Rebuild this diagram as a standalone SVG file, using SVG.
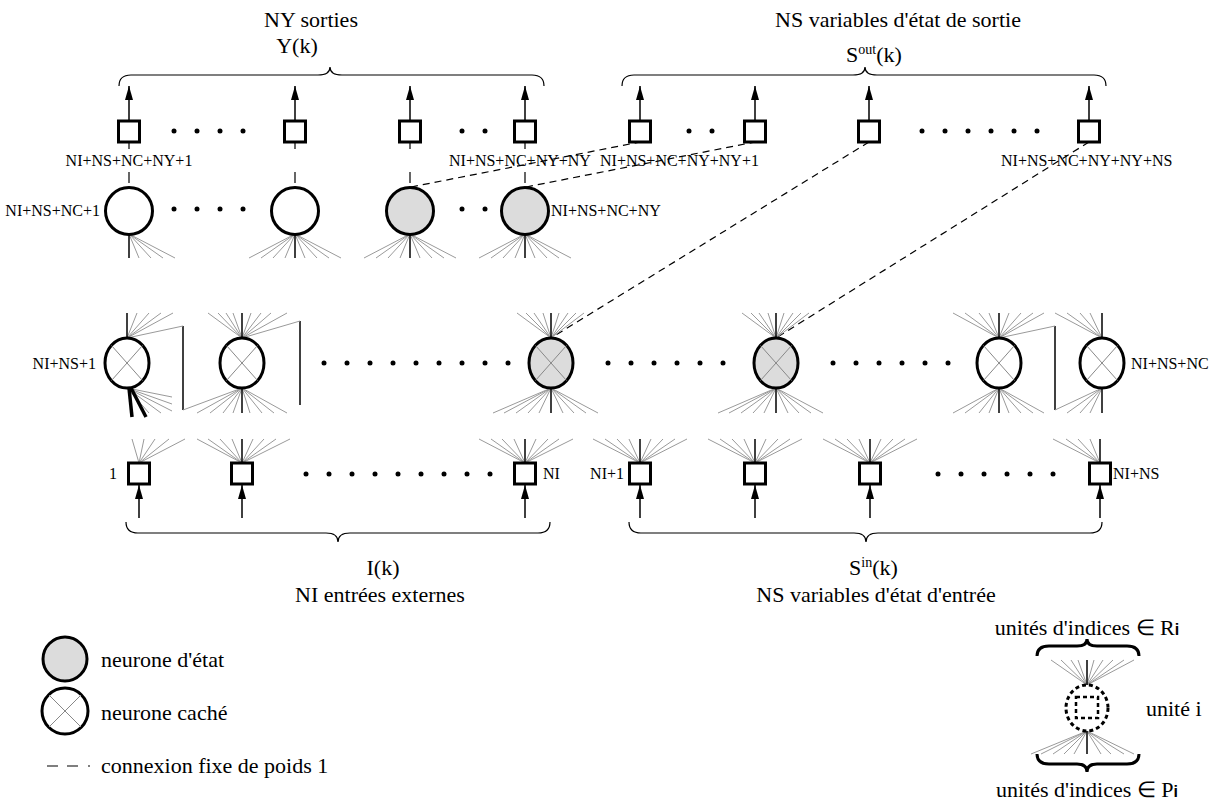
<svg xmlns="http://www.w3.org/2000/svg" width="1214" height="800" viewBox="0 0 1214 800">
<style>
text{font-family:"Liberation Serif","Times New Roman",serif;fill:#000}
.big{font-size:22px}
.sm{font-size:16px}
.sq{fill:#fff;stroke:#000;stroke-width:3}
.nc{fill:#fff;stroke:#000;stroke-width:3}
.ns{fill:#dcdcdc;stroke:#000;stroke-width:3}
.x{stroke:#888;stroke-width:1;fill:none}
.fan{fill:none;stroke:#9a9a9a;stroke-width:1}
.v{stroke:#000;stroke-width:1.5;fill:none}
.arr{stroke:#000;stroke-width:1.5}
.dash{fill:none;stroke:#000;stroke-width:1.2;stroke-dasharray:7 5}
.vd{fill:none;stroke:#000;stroke-width:1.2;stroke-dasharray:7 23 11 100}
.brace{fill:none;stroke:#000;stroke-width:1.2}
.tb{fill:none;stroke:#000;stroke-width:3}
.dot{fill:#000}
.thick{stroke:#000;stroke-width:3.5}
</style>
<defs>
<marker id="ah" viewBox="0 0 14 8" refX="14" refY="4" markerWidth="14" markerHeight="8" markerUnits="userSpaceOnUse" orient="auto">
<path d="M0,0 L14,4 L0,8 z" fill="#000"/>
</marker>
</defs>

<g id="titles">
<text class="big" x="311" y="27" text-anchor="middle">NY sorties</text>
<text class="big" x="297" y="53" text-anchor="middle">Y(k)</text>
<text class="big" x="898" y="27" text-anchor="middle">NS variables d'état de sortie</text>
<text class="big" x="846" y="62">S<tspan font-size="14" dy="-8">out</tspan><tspan dy="8">(k)</tspan></text>
<text class="big" x="383" y="575" text-anchor="middle">I(k)</text>
<text class="big" x="380" y="602" text-anchor="middle">NI entrées externes</text>
<text class="big" x="849" y="575">S<tspan font-size="14" dy="-8">in</tspan><tspan dy="8">(k)</tspan></text>
<text class="big" x="876" y="602" text-anchor="middle">NS variables d'état d'entrée</text>
</g>

<g id="braces">
<path class="brace" d="M119 86 Q119 75 131 75 L318 75 Q330 75 330 67 Q330 75 342 75 L532 75 Q544 75 544 86"/>
<path class="brace" d="M622 86 Q622 75 634 75 L853 75 Q865 75 865 67 Q865 75 877 75 L1094 75 Q1106 75 1106 86"/>
<path class="brace" d="M126 522 Q126 533 138 533 L326 533 Q338 533 338 542 Q338 533 350 533 L538 533 Q550 533 550 522"/>
<path class="brace" d="M629 522 Q629 533 641 533 L854 533 Q866 533 866 542 Q866 533 878 533 L1090 533 Q1102 533 1102 522"/>
</g>

<g id="connectors">
<line class="arr" x1="129" y1="121" x2="129" y2="86" marker-end="url(#ah)"/>
<line class="arr" x1="295" y1="121" x2="295" y2="86" marker-end="url(#ah)"/>
<line class="arr" x1="410" y1="121" x2="410" y2="86" marker-end="url(#ah)"/>
<line class="arr" x1="525" y1="121" x2="525" y2="86" marker-end="url(#ah)"/>
<line class="arr" x1="640" y1="121" x2="640" y2="86" marker-end="url(#ah)"/>
<line class="arr" x1="755" y1="121" x2="755" y2="86" marker-end="url(#ah)"/>
<line class="arr" x1="869" y1="121" x2="869" y2="86" marker-end="url(#ah)"/>
<line class="arr" x1="1089" y1="121" x2="1089" y2="86" marker-end="url(#ah)"/>
<line class="arr" x1="139" y1="518" x2="139" y2="485" marker-end="url(#ah)"/>
<line class="arr" x1="242" y1="518" x2="242" y2="485" marker-end="url(#ah)"/>
<line class="arr" x1="525" y1="518" x2="525" y2="485" marker-end="url(#ah)"/>
<line class="arr" x1="640" y1="518" x2="640" y2="485" marker-end="url(#ah)"/>
<line class="arr" x1="755" y1="518" x2="755" y2="485" marker-end="url(#ah)"/>
<line class="arr" x1="870" y1="518" x2="870" y2="485" marker-end="url(#ah)"/>
<line class="arr" x1="1100" y1="518" x2="1100" y2="485" marker-end="url(#ah)"/>
<line class="vd" x1="129" y1="142" x2="129" y2="187"/>
<line class="vd" x1="295" y1="142" x2="295" y2="187"/>
<line class="vd" x1="410" y1="142" x2="410" y2="187"/>
<line class="vd" x1="525" y1="142" x2="525" y2="187"/>
<line class="dash" x1="411" y1="187" x2="640" y2="142"/>
<line class="dash" x1="526" y1="187" x2="755" y2="142"/>
<line class="dash" x1="869" y1="142" x2="551" y2="338"/>
<line class="dash" x1="1089" y1="142" x2="776" y2="338"/>
<line class="v" x1="183" y1="326" x2="183" y2="410"/>
<line class="v" x1="300" y1="321" x2="300" y2="405"/>
<line class="v" x1="1055" y1="326" x2="1055" y2="410"/>
<path class="fan" d="M127 338 L183 326 M183 410 L242 388 M242 338 L300 321 M999 338 L1055 326 M1055 410 L1102 388"/>
</g>

<g id="dots" class="dot">
<circle cx="174" cy="131" r="2.5"/><circle cx="197" cy="131" r="2.5"/><circle cx="220" cy="131" r="2.5"/><circle cx="243" cy="131" r="2.5"/>
<circle cx="462" cy="131" r="2.5"/><circle cx="485" cy="131" r="2.5"/>
<circle cx="689" cy="131" r="2.5"/><circle cx="712" cy="131" r="2.5"/>
<circle cx="922" cy="131" r="2.5"/><circle cx="945" cy="131" r="2.5"/><circle cx="968" cy="131" r="2.5"/><circle cx="991" cy="131" r="2.5"/><circle cx="1014" cy="131" r="2.5"/><circle cx="1037" cy="131" r="2.5"/>
<circle cx="174" cy="209" r="2.5"/><circle cx="197" cy="209" r="2.5"/><circle cx="220" cy="209" r="2.5"/><circle cx="243" cy="209" r="2.5"/>
<circle cx="462" cy="209" r="2.5"/><circle cx="485" cy="209" r="2.5"/>
<circle cx="324" cy="363" r="2.5"/><circle cx="347" cy="363" r="2.5"/><circle cx="370" cy="363" r="2.5"/><circle cx="393" cy="363" r="2.5"/><circle cx="416" cy="363" r="2.5"/><circle cx="439" cy="363" r="2.5"/><circle cx="462" cy="363" r="2.5"/><circle cx="485" cy="363" r="2.5"/><circle cx="508" cy="363" r="2.5"/>
<circle cx="608" cy="363" r="2.5"/><circle cx="631" cy="363" r="2.5"/><circle cx="654" cy="363" r="2.5"/><circle cx="677" cy="363" r="2.5"/><circle cx="700" cy="363" r="2.5"/><circle cx="723" cy="363" r="2.5"/>
<circle cx="833" cy="363" r="2.5"/><circle cx="856" cy="363" r="2.5"/><circle cx="879" cy="363" r="2.5"/><circle cx="902" cy="363" r="2.5"/><circle cx="925" cy="363" r="2.5"/><circle cx="948" cy="363" r="2.5"/>
<circle cx="306" cy="474" r="2.5"/><circle cx="329" cy="474" r="2.5"/><circle cx="352" cy="474" r="2.5"/><circle cx="375" cy="474" r="2.5"/><circle cx="398" cy="474" r="2.5"/><circle cx="421" cy="474" r="2.5"/><circle cx="444" cy="474" r="2.5"/><circle cx="467" cy="474" r="2.5"/><circle cx="490" cy="474" r="2.5"/>
<circle cx="938" cy="474" r="2.5"/><circle cx="961" cy="474" r="2.5"/><circle cx="984" cy="474" r="2.5"/><circle cx="1007" cy="474" r="2.5"/><circle cx="1030" cy="474" r="2.5"/><circle cx="1053" cy="474" r="2.5"/>
</g>

<g id="out1"><rect class="sq" x="118.5" y="121" width="21" height="21"/></g>
<g id="out2"><rect class="sq" x="284.5" y="121" width="21" height="21"/></g>
<g id="out3"><rect class="sq" x="399.5" y="121" width="21" height="21"/></g>
<g id="out4"><rect class="sq" x="514.5" y="121" width="21" height="21"/></g>
<g id="out5"><rect class="sq" x="629.5" y="121" width="21" height="21"/></g>
<g id="out6"><rect class="sq" x="744.5" y="121" width="21" height="21"/></g>
<g id="out7"><rect class="sq" x="858.5" y="121" width="21" height="21"/></g>
<g id="out8"><rect class="sq" x="1078.5" y="121" width="21" height="21"/></g>

<g id="ny1">
<path class="fan" d="M129 234 L139 258 M129 234 L151 258 M129 234 L163 258 M129 234 L175 258"/>
<line class="v" x1="129" y1="234" x2="129" y2="258"/>
<ellipse class="nc" cx="129" cy="211" rx="23.5" ry="23.5"/>
</g>
<g id="ny2">
<path class="fan" d="M295 234 L249 258 M295 234 L261 258 M295 234 L273 258 M295 234 L285 258 M295 234 L305 258 M295 234 L317 258 M295 234 L329 258 M295 234 L341 258"/>
<line class="v" x1="295" y1="234" x2="295" y2="258"/>
<ellipse class="nc" cx="295" cy="211" rx="23.5" ry="23.5"/>
</g>
<g id="ny3">
<path class="fan" d="M410 234 L364 258 M410 234 L376 258 M410 234 L388 258 M410 234 L400 258 M410 234 L420 258 M410 234 L432 258 M410 234 L444 258 M410 234 L456 258"/>
<line class="v" x1="410" y1="234" x2="410" y2="258"/>
<ellipse class="ns" cx="410" cy="211" rx="23.5" ry="23.5"/>
</g>
<g id="ny4">
<path class="fan" d="M525 234 L479 258 M525 234 L491 258 M525 234 L503 258 M525 234 L515 258 M525 234 L535 258 M525 234 L547 258 M525 234 L559 258 M525 234 L571 258"/>
<line class="v" x1="525" y1="234" x2="525" y2="258"/>
<ellipse class="ns" cx="525" cy="211" rx="23.5" ry="23.5"/>
</g>

<g id="h1">
<path class="fan" d="M127 338 L137 313 M127 338 L149 313 M127 338 L161 313 M127 338 L173 313 M127 388 L172 397 M127 388 L172 404 M127 388 L172 411 M127 388 L161 413 M127 388 L149 413"/>
<line class="v" x1="127" y1="338" x2="127" y2="313"/>
<line class="thick" x1="129" y1="388" x2="132" y2="417"/>
<line class="thick" x1="131" y1="388" x2="146" y2="417"/>
<ellipse class="nc" cx="127" cy="363" rx="22" ry="25"/>
<path class="x" d="M111.5 345.5 L142.5 380.5 M142.5 345.5 L111.5 380.5"/>
</g>
<g id="h2">
<path class="fan" d="M242 338 L208 313 M242 338 L218 313 M242 338 L226 313 M242 338 L233 313 M242 338 L251 313 M242 338 L261 313 M242 338 L271 313 M242 338 L287 313 M242 388 L197 413 M242 388 L210 413 M242 388 L223 413 M242 388 L233 413 M242 388 L250 413 M242 388 L262 413 M242 388 L274 413 M242 388 L287 413"/>
<line class="v" x1="242" y1="313" x2="242" y2="413"/>
<ellipse class="nc" cx="242" cy="363" rx="22" ry="25"/>
<path class="x" d="M226.5 345.5 L257.5 380.5 M257.5 345.5 L226.5 380.5"/>
</g>
<g id="h3">
<path class="fan" d="M551 338 L517 313 M551 338 L526 313 M551 338 L534 313 M551 338 L543 313 M551 338 L559 313 M551 338 L568 313 M551 338 L576 313 M551 338 L584 313 M551 388 L493 413 M551 388 L504 413 M551 388 L516 413 M551 388 L528 413 M551 388 L539 413 M551 388 L563 413 M551 388 L574 413 M551 388 L586 413 M551 388 L598 413"/>
<line class="v" x1="551" y1="313" x2="551" y2="413"/>
<ellipse class="ns" cx="551" cy="363" rx="22" ry="25"/>
<path class="x" d="M535.5 345.5 L566.5 380.5 M566.5 345.5 L535.5 380.5"/>
</g>
<g id="h4">
<path class="fan" d="M776 338 L742 313 M776 338 L751 313 M776 338 L759 313 M776 338 L768 313 M776 338 L784 313 M776 338 L793 313 M776 338 L801 313 M776 338 L809 313 M776 388 L718 413 M776 388 L729 413 M776 388 L741 413 M776 388 L753 413 M776 388 L764 413 M776 388 L788 413 M776 388 L799 413 M776 388 L811 413 M776 388 L823 413"/>
<line class="v" x1="776" y1="313" x2="776" y2="413"/>
<ellipse class="ns" cx="776" cy="363" rx="22" ry="25"/>
<path class="x" d="M760.5 345.5 L791.5 380.5 M791.5 345.5 L760.5 380.5"/>
</g>
<g id="h5">
<path class="fan" d="M999 338 L953 313 M999 338 L965 313 M999 338 L979 313 M999 338 L989 313 M999 338 L1009 313 M999 338 L1021 313 M999 338 L1033 313 M999 338 L1044 313 M999 388 L953 413 M999 388 L965 413 M999 388 L979 413 M999 388 L989 413 M999 388 L1009 413 M999 388 L1021 413 M999 388 L1033 413 M999 388 L1044 413"/>
<line class="v" x1="999" y1="313" x2="999" y2="413"/>
<ellipse class="nc" cx="999" cy="363" rx="22" ry="25"/>
<path class="x" d="M983.5 345.5 L1014.5 380.5 M1014.5 345.5 L983.5 380.5"/>
</g>
<g id="h6">
<path class="fan" d="M1102 338 L1055 313 M1102 338 L1067 313 M1102 338 L1080 313 M1102 338 L1090 313 M1102 388 L1067 413 M1102 388 L1080 413 M1102 388 L1090 413"/>
<line class="v" x1="1102" y1="313" x2="1102" y2="413"/>
<ellipse class="nc" cx="1102" cy="363" rx="22" ry="25"/>
<path class="x" d="M1086.5 345.5 L1117.5 380.5 M1117.5 345.5 L1086.5 380.5"/>
</g>

<g id="in1">
<path class="fan" d="M139 463 L132 439 M139 463 L144 439 M139 463 L155 439 M139 463 L169 439 M139 463 L185 439"/>
<rect class="sq" x="128.5" y="463" width="21" height="21"/>
</g>
<g id="in2">
<path class="fan" d="M242 463 L197 439 M242 463 L208 439 M242 463 L220 439 M242 463 L232 439 M242 463 L253 439 M242 463 L264 439 M242 463 L276 439 M242 463 L290 439"/>
<line class="v" x1="242" y1="463" x2="242" y2="439"/>
<rect class="sq" x="231.5" y="463" width="21" height="21"/>
</g>
<g id="in3">
<path class="fan" d="M525 463 L479 439 M525 463 L491 439 M525 463 L502 439 M525 463 L514 439 M525 463 L536 439 M525 463 L548 439 M525 463 L559 439 M525 463 L573 439"/>
<line class="v" x1="525" y1="463" x2="525" y2="439"/>
<rect class="sq" x="514.5" y="463" width="21" height="21"/>
</g>
<g id="in4">
<path class="fan" d="M640 463 L593 439 M640 463 L605 439 M640 463 L617 439 M640 463 L629 439 M640 463 L651 439 M640 463 L663 439 M640 463 L675 439 M640 463 L687 439"/>
<line class="v" x1="640" y1="463" x2="640" y2="439"/>
<rect class="sq" x="629.5" y="463" width="21" height="21"/>
</g>
<g id="in5">
<path class="fan" d="M755 463 L708 439 M755 463 L720 439 M755 463 L732 439 M755 463 L744 439 M755 463 L766 439 M755 463 L778 439 M755 463 L790 439 M755 463 L802 439"/>
<line class="v" x1="755" y1="463" x2="755" y2="439"/>
<rect class="sq" x="744.5" y="463" width="21" height="21"/>
</g>
<g id="in6">
<path class="fan" d="M870 463 L823 439 M870 463 L835 439 M870 463 L847 439 M870 463 L859 439 M870 463 L881 439 M870 463 L893 439 M870 463 L905 439 M870 463 L917 439"/>
<line class="v" x1="870" y1="463" x2="870" y2="439"/>
<rect class="sq" x="859.5" y="463" width="21" height="21"/>
</g>
<g id="in7">
<path class="fan" d="M1100 463 L1053 439 M1100 463 L1066 439 M1100 463 L1078 439 M1100 463 L1090 439"/>
<line class="v" x1="1100" y1="463" x2="1100" y2="439"/>
<rect class="sq" x="1089.5" y="463" width="21" height="21"/>
</g>

<g id="labels">
<text class="sm" x="129" y="166" text-anchor="middle">NI+NS+NC+NY+1</text>
<text class="sm" x="449" y="166">NI+NS+NC+NY+NY</text>
<text class="sm" x="600" y="166">NI+NS+NC+NY+NY+1</text>
<text class="sm" x="1001" y="166">NI+NS+NC+NY+NY+NS</text>
<text class="sm" x="100" y="216" text-anchor="end">NI+NS+NC+1</text>
<text class="sm" x="551" y="216">NI+NS+NC+NY</text>
<text class="sm" x="96" y="369" text-anchor="end">NI+NS+1</text>
<text class="sm" x="1131" y="369">NI+NS+NC</text>
<text class="sm" x="117" y="479" text-anchor="end">1</text>
<text class="sm" x="543" y="479">NI</text>
<text class="sm" x="624" y="479" text-anchor="end">NI+1</text>
<text class="sm" x="1113" y="479">NI+NS</text>
</g>

<g id="legend-state">
<circle class="ns" cx="65" cy="659" r="22"/>
<text class="big" x="101" y="667">neurone d'état</text>
</g>
<g id="legend-hidden">
<circle class="nc" cx="65" cy="711" r="23"/>
<path class="x" d="M49 695 L81 727 M81 695 L49 727"/>
<text class="big" x="101" y="720">neurone caché</text>
</g>
<g id="legend-fixed">
<path d="M47 766 H58 M67 766 H78 M88 766 H90" stroke="#000" stroke-width="1.2" fill="none"/>
<text class="big" x="101" y="773">connexion fixe de poids 1</text>
</g>

<g id="legend-unit">
<text class="big" x="1087" y="635" text-anchor="middle">unités d'indices ∈ R<tspan font-family="Liberation Sans" font-weight="bold" font-size="16">i</tspan></text>
<path class="tb" d="M1037 656 Q1037 646 1049 646 L1077 646 Q1087 646 1087 639 Q1087 646 1097 646 L1127 646 Q1139 646 1139 656"/>
<path class="fan" d="M1087 685 L1051 660 M1087 685 L1061 660 M1087 685 L1071 660 M1087 685 L1078 660 M1087 685 L1094 660 M1087 685 L1103 660 M1087 685 L1113 660 M1087 685 L1124 660 M1087 685 L1134 660"/>
<line class="v" x1="1087" y1="685" x2="1087" y2="660"/>
<path class="fan" d="M1087 731 L1031 754 M1087 731 L1041 754 M1087 731 L1053 754 M1087 731 L1064 754 M1087 731 L1074 754 M1087 731 L1101 754 M1087 731 L1111 754 M1087 731 L1124 754 M1087 731 L1134 754"/>
<line class="v" x1="1087" y1="731" x2="1087" y2="754"/>
<ellipse cx="1087" cy="708" rx="21" ry="23" fill="#fff" stroke="#000" stroke-width="3" stroke-dasharray="4 3"/>
<rect x="1076" y="697" width="22" height="21" fill="none" stroke="#000" stroke-width="2.5" stroke-dasharray="4 3"/>
<text class="big" x="1146" y="716">unité i</text>
<path class="tb" d="M1037 754 Q1037 764 1049 764 L1077 764 Q1087 764 1087 772 Q1087 764 1097 764 L1127 764 Q1139 764 1139 754"/>
<text class="big" x="1087" y="797" text-anchor="middle">unités d'indices ∈ P<tspan font-family="Liberation Sans" font-weight="bold" font-size="16">i</tspan></text>
</g>
</svg>
